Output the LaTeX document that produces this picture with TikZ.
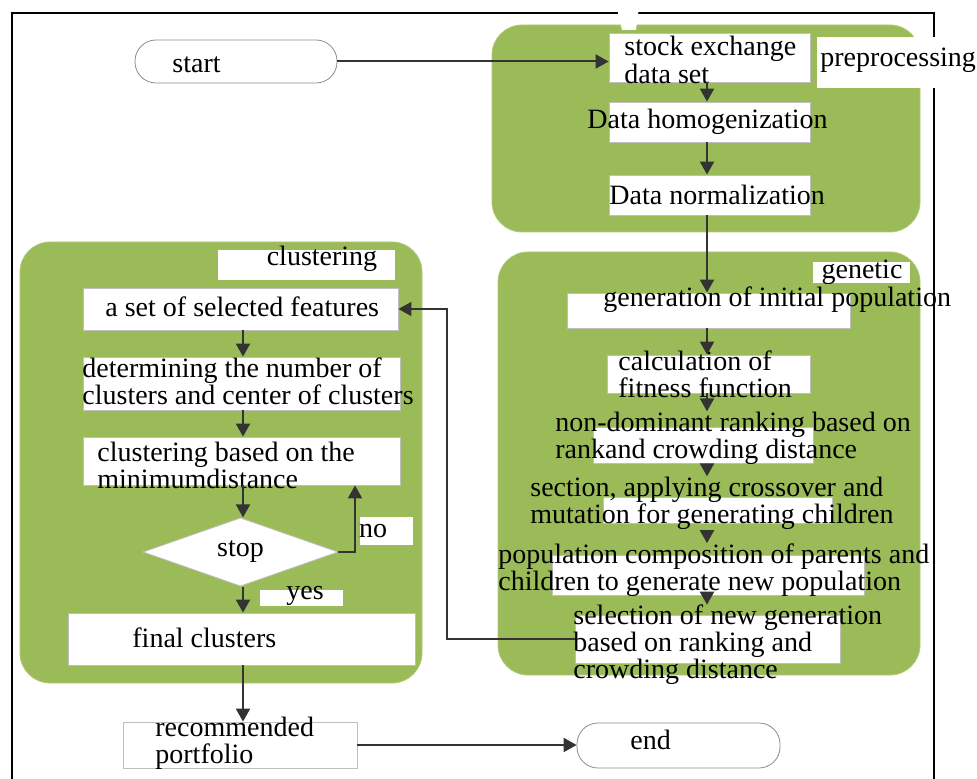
\documentclass[tikz,border=0pt]{standalone}
\usepackage{fontspec}
\setmainfont{Liberation Serif}
\usetikzlibrary{arrows.meta,shapes.geometric,fit}
\definecolor{panelgreen}{RGB}{155,187,89}

\begin{document}
\begin{tikzpicture}[x=0.5pt,y=-0.5pt,
  panel/.style={fill=panelgreen, draw=panelgreen!80!white, rounded corners=15pt},
  box/.style={draw=black!25, fill=white, inner sep=0pt},
  pill/.style={draw=black!45, fill=white, rounded corners=10.5pt, inner sep=0pt},
  txt/.style={font=\fontsize{14}{13.5}\selectfont, inner sep=0pt, align=left, anchor=west},
  arr/.style={draw=black!80, line width=1pt, -{Triangle[length=6.5pt,width=7pt]}}]
  \useasboundingbox (0,0) rectangle (977,779);

  \filldraw[panel] (492,25) rectangle (920,232);
  \filldraw[panel] (498,252) rectangle (920,675);
  \filldraw[panel] (20,242) rectangle (422,683);
  \draw[line width=1.2pt] (12,779) |- (934,13) -- (934,779);
  \fill[white] (615,0) -- (640,0) -- (636,30) -- (622,30) -- cycle;

  % white patches under the labels
  \fill[white] (817,37) rectangle (977,88);
  \fill[white] (813,262) rectangle (910,283);
  \fill[white] (218,250) rectangle (395,280);
  \fill[white] (360,517) rectangle (413,545);
  \fill[white] (260,590) rectangle (343,606);

  \coordinate (spineR) at (707,0);
  \coordinate (spineL) at (243,0);
  \coordinate (fbx) at (447,0);
  \coordinate (nox) at (355,0);

  \node[pill, fit={(135,40) (337,83)}] (start) {};
  \node[pill, fit={(577,723) (780,768)}] (endp) {};

  \node[box, fit={(609,33) (810,82)}] (stock) {};
  \node[box, fit={(609,102) (810,142)}] (homog) {};
  \node[box, fit={(609,175) (810,215)}] (norm) {};

  \node[box, fit={(567,293) (850,328)}] (gen) {};
  \node[box, fit={(607,355) (810,393)}] (calc) {};
  \node[box, fit={(593,427) (813,463)}] (ndom) {};
  \node[box, fit={(603,497) (832,523)}] (sect) {};
  \node[box, fit={(552,555) (864,595)}] (pop) {};
  \node[box, fit={(575,615) (840,663)}] (sel) {};

  \node[box, fit={(83,288) (398,330)}] (feat) {};
  \node[box, fit={(83,357) (400,410)}] (det) {};
  \node[box, fit={(83,437) (400,485)}] (cbase) {};
  \node[diamond, draw=black!25, fill=white, inner sep=0pt, minimum width=97.5pt,
    minimum height=29.5pt, font=\fontsize{14}{13.5}\selectfont] (stop) at (240.5,552) {stop};
  \node[box, fit={(68,613) (415,665)}] (final) {};
  \node[box, fit={(123,722) (357,768)}] (rec) {};

  \node[txt] (startt) at (172,65) {start};
  \node[txt] (endt) at (630,740) {end};
  \node[txt, font=\fontsize{14}{10.5}\selectfont] (stockt) at (624,60) {stock exchange\\data set};
  \node[txt] (pret) at (820,60) {preprocessing};
  \node[txt] (homogt) at (587,122) {Data homogenization};
  \node[txt] (normt) at (609,195) {Data normalization};

  \node[txt, anchor=center] (gent0) at (862,272) {genetic};
  \node[txt] (gent) at (603,300) {generation of initial population};
  \node[txt] (calct) at (618,374) {calculation of\\fitness function};
  \node[txt] (ndomt) at (555,438) {non-dominant ranking based on\\rankand crowding distance};
  \node[txt] (sectt) at (530,503) {section, applying crossover and\\mutation for generating children};
  \node[txt] (popt) at (498,570) {population composition of parents and\\children to generate new population};
  \node[txt] (selt) at (573,645) {selection of new generation\\based on ranking and\\crowding distance};

  \node[txt, anchor=center] (clut) at (322,259) {clustering};
  \node[txt] (featt) at (105,307) {a set of selected features};
  \node[txt] (dett) at (82,381) {determining the number of\\clusters and center of clusters};
  \node[txt] (cbaset) at (97,465) {clustering based on the\\minimumdistance};
  \node[txt, anchor=center] (not) at (373,531) {no};
  \node[txt, anchor=center] (yest) at (305,596) {yes};
  \node[txt] (finalt) at (132,638) {final clusters};
  \node[txt] (rect) at (155,743) {recommended\\portfolio};

  \draw[arr] (start.east) -- (start.east -| stock.west);
  \draw[arr] (stock.south -| spineR) -- (homog.north -| spineR);
  \draw[arr] (homog.south -| spineR) -- (norm.north -| spineR);
  \draw[arr] (norm.south -| spineR) -- (gen.north -| spineR);
  \draw[arr] (gen.south -| spineR) -- (calc.north -| spineR);
  \draw[arr] (calc.south -| spineR) -- (ndomt.north -| spineR);
  \draw[arr] (ndomt.south -| spineR) -- (sectt.north -| spineR);
  \draw[arr] (sectt.south -| spineR) -- (popt.north -| spineR);
  \draw[arr] (popt.south -| spineR) -- (selt.north -| spineR);
  \draw[arr, line width=0.8pt] (sel.west) -- (sel.west -| fbx) |- (feat.east);

  \draw[arr] (feat.south -| spineL) -- (det.north -| spineL);
  \draw[arr] (det.south -| spineL) -- (cbase.north -| spineL);
  \draw[arr] (cbase.south -| spineL) -- (stop.north -| spineL);
  \draw[arr] (stop.east) -| (cbase.south -| nox);
  \draw[arr] (stop.south -| spineL) -- (final.north -| spineL);
  \draw[arr] (final.south -| spineL) -- (rec.north -| spineL);
  \draw[arr] (rec.east) -- (rec.east -| endp.west);
\end{tikzpicture}
\end{document}
